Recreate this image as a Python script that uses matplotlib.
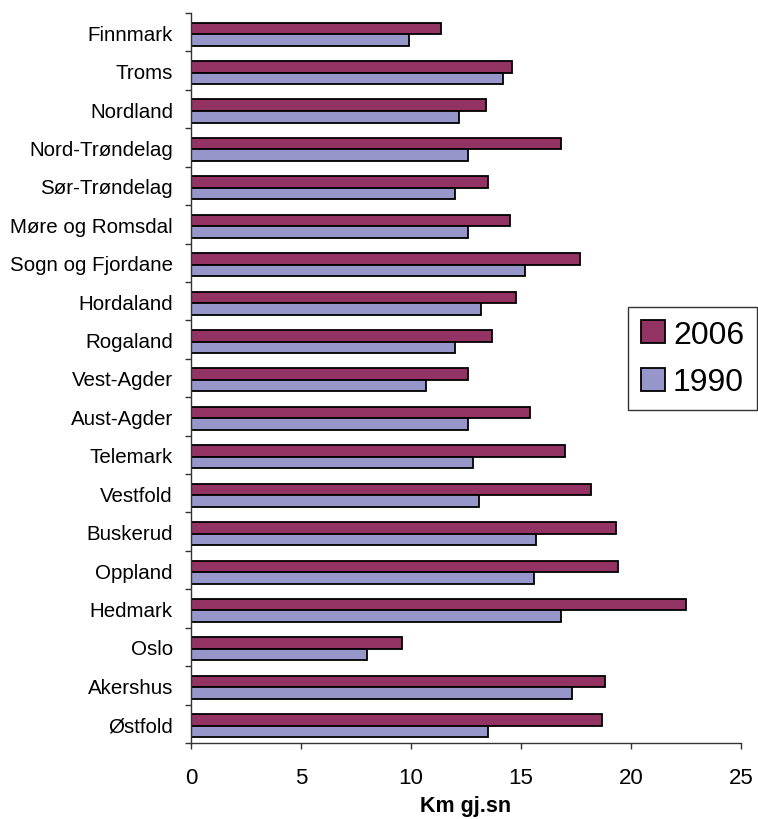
import matplotlib
matplotlib.use("Agg")
import matplotlib.pyplot as plt
import numpy as np
from matplotlib.ticker import FixedLocator

plt.rcParams['font.family'] = ['Liberation Sans', 'DejaVu Sans']

counties = ["Østfold", "Akershus", "Oslo", "Hedmark", "Oppland", "Buskerud",
            "Vestfold", "Telemark", "Aust-Agder", "Vest-Agder", "Rogaland",
            "Hordaland", "Sogn og Fjordane", "Møre og Romsdal", "Sør-Trøndelag",
            "Nord-Trøndelag", "Nordland", "Troms", "Finnmark"]
v2006 = [18.7, 18.8, 9.6, 22.5, 19.4, 19.3, 18.2, 17.0, 15.4, 12.6, 13.7,
         14.75, 17.7, 14.5, 13.5, 16.8, 13.4, 14.6, 11.35]
v1990 = [13.5, 17.3, 8.0, 16.8, 15.6, 15.7, 13.1, 12.8, 12.6, 10.7, 12.0,
         13.2, 15.2, 12.6, 12.0, 12.6, 12.2, 14.2, 9.9]
xticks = [0, 5, 10, 15, 20, 25]
xlabel = "Km gj.sn"
series_labels = ["2006", "1990"]

c2006 = "#933363"
c1990 = "#9696CA"

fig = plt.figure(figsize=(7.58, 8.2), dpi=100)
ax = fig.add_axes([191/758, 1-744/820, (741-191)/758, (744-14)/820])

y = np.arange(len(counties))
h = 0.3
shift = -0.05
b1 = ax.barh(y + h/2 + shift, v2006, height=h, color=c2006, edgecolor="black",
             linewidth=1.3, label=series_labels[0])
b2 = ax.barh(y - h/2 + shift, v1990, height=h, color=c1990, edgecolor="black",
             linewidth=1.3, label=series_labels[1])

ax.set_xlim(0, 25)
ax.set_ylim(-0.5, len(counties) - 0.5)
ax.set_xticks(xticks)
ax.set_xticklabels([str(t) for t in xticks], fontsize=16)
ax.set_yticks(y)
ax.set_yticklabels(counties, fontsize=14.8)
ax.yaxis.set_minor_locator(FixedLocator(np.arange(-0.5, len(counties), 1.0)))
ax.tick_params(axis='y', which='major', length=0, pad=13)
ax.tick_params(axis='y', which='minor', length=4.5, width=1, direction='out', color='#333333')
ax.tick_params(axis='x', which='major', length=4.5, width=1, direction='out', pad=13, color='#333333')
for s in ['top', 'right']:
    ax.spines[s].set_visible(False)
for s in ['left', 'bottom']:
    ax.spines[s].set_color('#333333')
    ax.spines[s].set_linewidth(1)

ax.set_xlabel(xlabel, fontsize=15.5, fontweight='bold', labelpad=5)

leg = ax.legend(handles=[b1, b2], loc='upper right',
                bbox_to_anchor=(757/758, 1-308/820), bbox_transform=fig.transFigure,
                borderaxespad=0, fontsize=23, frameon=True, fancybox=False,
                handlelength=0.75, handleheight=0.75, handletextpad=0.25,
                labelspacing=0.55, borderpad=0.4)
leg.get_frame().set_edgecolor('black')
leg.get_frame().set_linewidth(1)

fig.savefig("out.png", dpi=100)
